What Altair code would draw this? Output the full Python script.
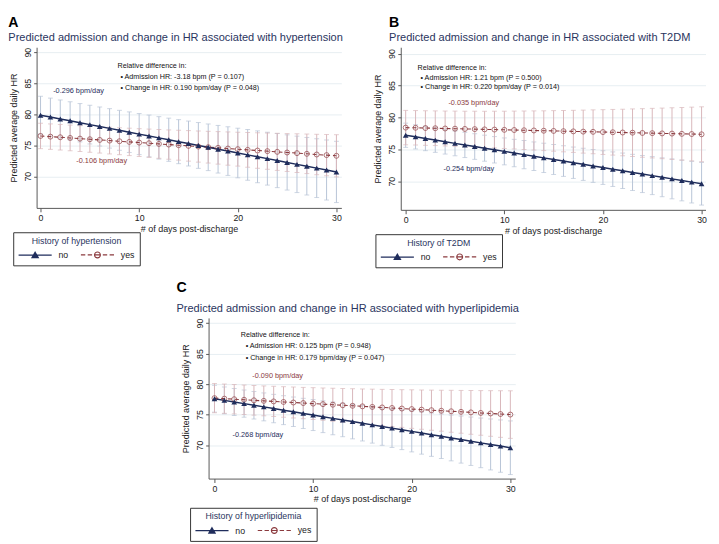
import altair as alt
import pandas as pd

days = list(range(31))

# ---------------- Panel A: hypertension ----------------
a_no_mean = [79.85, 79.55, 79.24, 78.94, 78.63, 78.33, 78.02, 77.72, 77.41, 77.11, 76.80,
             76.50, 76.19, 75.89, 75.58, 75.28, 74.97, 74.67, 74.36, 74.06, 73.75,
             73.45, 73.14, 72.84, 72.53, 72.23, 71.92, 71.62, 71.31, 71.01, 70.70]
a_no_hw = [3.05, 3.05, 3.06, 3.07, 3.09, 3.12, 3.15, 3.18, 3.22, 3.27, 3.31,
           3.37, 3.42, 3.48, 3.55, 3.62, 3.69, 3.76, 3.84, 3.92, 4.00,
           4.09, 4.18, 4.26, 4.36, 4.45, 4.55, 4.64, 4.74, 4.84, 4.94]
a_yes_mean = [76.50, 76.39, 76.29, 76.18, 76.07, 75.97, 75.86, 75.75, 75.65, 75.54, 75.43,
              75.33, 75.22, 75.11, 75.01, 74.90, 74.79, 74.69, 74.58, 74.47, 74.37,
              74.26, 74.15, 74.05, 73.94, 73.83, 73.73, 73.62, 73.51, 73.41, 73.30]
a_yes_hw = [2.05, 2.05, 2.06, 2.07, 2.08, 2.10, 2.12, 2.15, 2.17, 2.21, 2.24,
            2.28, 2.32, 2.36, 2.41, 2.46, 2.51, 2.56, 2.62, 2.68, 2.73,
            2.80, 2.86, 2.92, 2.99, 3.05, 3.12, 3.19, 3.26, 3.33, 3.40]

# ---------------- Panel B: T2DM ----------------
b_no_mean = [77.20, 76.95, 76.69, 76.44, 76.19, 75.93, 75.68, 75.43, 75.17, 74.92, 74.67,
             74.41, 74.16, 73.91, 73.65, 73.40, 73.15, 72.89, 72.64, 72.39, 72.13,
             71.88, 71.63, 71.37, 71.12, 70.87, 70.61, 70.36, 70.11, 69.85, 69.60]
b_no_hw = [1.90, 1.90, 1.91, 1.92, 1.94, 1.95, 1.98, 2.01, 2.04, 2.07, 2.11,
           2.15, 2.20, 2.24, 2.30, 2.35, 2.40, 2.46, 2.52, 2.58, 2.64,
           2.71, 2.78, 2.84, 2.91, 2.98, 3.05, 3.13, 3.20, 3.27, 3.35]
b_yes_mean = [78.40, 78.37, 78.33, 78.30, 78.26, 78.23, 78.19, 78.16, 78.12, 78.09, 78.05,
              78.02, 77.98, 77.95, 77.91, 77.88, 77.84, 77.81, 77.77, 77.74, 77.70,
              77.67, 77.63, 77.60, 77.56, 77.53, 77.49, 77.46, 77.42, 77.39, 77.35]
b_yes_hw = [2.70, 2.70, 2.71, 2.72, 2.74, 2.76, 2.78, 2.81, 2.84, 2.88, 2.92,
            2.97, 3.01, 3.07, 3.12, 3.18, 3.24, 3.30, 3.37, 3.44, 3.51,
            3.58, 3.65, 3.73, 3.81, 3.89, 3.97, 4.05, 4.13, 4.22, 4.31]

# ---------------- Panel C: hyperlipidemia ----------------
c_no_mean = [77.60, 77.33, 77.06, 76.80, 76.53, 76.26, 75.99, 75.72, 75.46, 75.19, 74.92,
             74.65, 74.38, 74.12, 73.85, 73.58, 73.31, 73.04, 72.78, 72.51, 72.24,
             71.97, 71.70, 71.44, 71.17, 70.90, 70.63, 70.36, 70.10, 69.83, 69.56]
c_no_hw = [2.20, 2.20, 2.21, 2.23, 2.26, 2.29, 2.33, 2.37, 2.42, 2.48, 2.54,
           2.61, 2.68, 2.75, 2.83, 2.91, 2.99, 3.08, 3.17, 3.26, 3.36,
           3.46, 3.55, 3.65, 3.76, 3.86, 3.97, 4.07, 4.18, 4.29, 4.40]
c_yes_mean = [77.70, 77.61, 77.52, 77.43, 77.34, 77.25, 77.16, 77.07, 76.98, 76.89, 76.80,
              76.71, 76.62, 76.53, 76.44, 76.35, 76.26, 76.17, 76.08, 75.99, 75.90,
              75.81, 75.72, 75.63, 75.54, 75.45, 75.36, 75.27, 75.18, 75.09, 75.00]
c_yes_hw = [2.40, 2.40, 2.41, 2.42, 2.43, 2.45, 2.48, 2.50, 2.54, 2.57, 2.61,
            2.65, 2.70, 2.74, 2.80, 2.85, 2.91, 2.97, 3.03, 3.09, 3.16,
            3.22, 3.29, 3.36, 3.44, 3.51, 3.59, 3.66, 3.74, 3.82, 3.90]

groups = ["no", "yes"]
x_ticks = [0, 10, 20, 30]
y_ticks = [70, 75, 80, 85, 90]

a_texts = ["Relative difference in:", "\u2022  Admission HR: -3.18 bpm (P = 0.107)",
           "\u2022  Change in HR: 0.190 bpm/day (P = 0.048)"]
b_texts = ["Relative difference in:", "\u2022  Admission HR: 1.21 bpm (P = 0.500)",
           "\u2022  Change in HR: 0.220 bpm/day (P = 0.014)"]
c_texts = ["Relative difference in:", "\u2022  Admission HR: 0.125 bpm (P = 0.948)",
           "\u2022  Change in HR: 0.179 bpm/day (P = 0.047)"]
a_slopes = ["-0.296 bpm/day", "-0.106 bpm/day"]
b_slopes = ["-0.254 bpm/day", "-0.035 bpm/day"]
c_slopes = ["-0.268 bpm/day", "-0.090 bpm/day"]

NAVY = "#1f2d5c"
MAROON = "#8b3a3e"
NAVY_CI = "#b7c3d6"
MAROON_CI = "#d8b6ba"
TXT = "#2a3560"
FONT = "Liberation Sans"

# legend symbols (unit = 5 px with symbolSize 100): line + marker
PATH_NO = ("M-3.4,0L3.4,0"
           "M0,-0.6L0.65,0.5L-0.65,0.5Z"
           "M0,-0.3L0.4,0.35L-0.4,0.35Z"
           "M0,-0.05L0.15,0.2L-0.15,0.2Z")
PATH_YES = ("M-3.4,0L-2.5,0M-2.0,0L-1.1,0M-0.6,0L0.6,0M1.1,0L2.0,0M2.5,0L3.4,0"
            "M-0.6,0A0.6,0.6 0 1,0 0.6,0A0.6,0.6 0 1,0 -0.6,0Z")


def panel(letter, subtitle, legtitle, no_mean, no_hw, yes_mean, yes_hw,
          texts, text_pos, slopes, slope_pos, width, height, xdom, ydom,
          title_dx, leg_xy, sub_pad):
    rows = []
    for g, means, hws in (("no", no_mean, no_hw), ("yes", yes_mean, yes_hw)):
        for d, m, h in zip(days, means, hws):
            rows.append({"day": d, "grp": g, "mean": m, "lo": m - h, "hi": m + h})
    df = pd.DataFrame(rows)
    base = alt.Chart(df)

    xs = alt.Scale(domain=xdom, nice=False, zero=False)
    ys = alt.Scale(domain=ydom, nice=False, zero=False)
    xax = alt.Axis(values=x_ticks, title="# of days post-discharge", grid=False,
                   labelFontSize=9, titleFontSize=9.2, labelFont=FONT, titleFont=FONT,
                   titleFontWeight="normal", labelColor="#222", titleColor="#222",
                   domainColor="#555", tickColor="#555", tickSize=4, labelPadding=2,
                   titlePadding=2)
    yax = alt.Axis(values=y_ticks, title="Predicted average daily HR", grid=True,
                   gridColor="#e6eef2", labelAngle=-90, labelAlign="center",
                   labelBaseline="bottom", labelFontSize=9, titleFontSize=9.2,
                   labelFont=FONT, titleFont=FONT, titleFontWeight="normal",
                   labelColor="#222", titleColor="#222", domainColor="#555",
                   tickColor="#555", tickSize=3, labelPadding=1, titlePadding=6)
    X = alt.X("day:Q", scale=xs, axis=xax)

    def Y(f):
        return alt.Y(f, type="quantitative", scale=ys, axis=yax)

    layers = []
    for g, cicol in (("no", NAVY_CI), ("yes", MAROON_CI)):
        sub = base.transform_filter(alt.datum.grp == g)
        layers.append(sub.mark_rule(color=cicol, strokeWidth=1).encode(
            x=X, y=Y("lo"), y2="hi"))
        layers.append(sub.mark_tick(color=cicol, orient="horizontal", size=5,
                                    thickness=1).encode(x=X, y=Y("lo")))
        layers.append(sub.mark_tick(color=cicol, orient="horizontal", size=5,
                                    thickness=1).encode(x=X, y=Y("hi")))
    no = base.transform_filter(alt.datum.grp == "no")
    yes = base.transform_filter(alt.datum.grp == "yes")
    layers.append(yes.mark_line(color=MAROON, strokeWidth=1.1, strokeDash=[4, 3]).encode(
        x=X, y=Y("mean")))
    layers.append(no.mark_line(color=NAVY, strokeWidth=1.5).encode(x=X, y=Y("mean")))
    layers.append(yes.mark_point(shape="circle", color=MAROON, size=26, strokeWidth=1,
                                 filled=False).encode(x=X, y=Y("mean")))
    layers.append(no.mark_point(shape="triangle-up", color=NAVY, size=34,
                                filled=True, opacity=1).encode(x=X, y=Y("mean")))

    leg = alt.Legend(title=legtitle, orient="none", legendX=leg_xy[0], legendY=leg_xy[1],
                     direction="horizontal", symbolSize=100, symbolStrokeWidth=1.2,
                     symbolOffset=11.5, labelOffset=18, columnPadding=10,
                     titleAnchor="middle", strokeColor="#333", padding=5,
                     titleFont=FONT, titleFontSize=9, titleFontWeight="normal",
                     titleColor=TXT, labelFont=FONT, labelFontSize=9,
                     labelColor="#222", titlePadding=3, fillColor="white")
    layers.append(base.mark_point(opacity=0, filled=True).encode(
        x=X, y=Y("mean"),
        shape=alt.Shape("grp:N", scale=alt.Scale(domain=groups, range=[PATH_NO, PATH_YES]),
                        legend=leg),
        stroke=alt.Stroke("grp:N", scale=alt.Scale(domain=groups, range=[NAVY, MAROON]),
                          legend=leg),
        fill=alt.Fill("grp:N", scale=alt.Scale(domain=groups, range=[NAVY, "transparent"]),
                      legend=leg),
    ))

    tdf = pd.DataFrame({"t": texts, "x": [p[0] for p in text_pos],
                        "y": [p[1] for p in text_pos]})
    layers.append(alt.Chart(tdf).mark_text(align="left", baseline="middle", font=FONT,
                                           fontSize=7.4, color="#111").encode(
        x=alt.X("x:Q", scale=xs, axis=xax), y=alt.Y("y:Q", scale=ys, axis=yax),
        text="t:N"))
    for t, pos, col in zip(slopes, slope_pos, (NAVY, MAROON)):
        sdf = pd.DataFrame({"t": [t], "x": [pos[0]], "y": [pos[1]]})
        layers.append(alt.Chart(sdf).mark_text(align="center", baseline="middle",
                                               font=FONT, fontSize=7.5, color=col).encode(
            x=alt.X("x:Q", scale=xs, axis=xax), y=alt.Y("y:Q", scale=ys, axis=yax),
            text="t:N"))

    return alt.layer(*layers).properties(
        width=width, height=height,
        title=alt.TitleParams(text=letter, subtitle=subtitle, anchor="start", frame="group",
                              dx=title_dx, fontSize=14.5, fontWeight="bold", color="black",
                              font=FONT, subtitleFont=FONT, subtitleFontSize=11.3,
                              subtitleColor=TXT, subtitlePadding=sub_pad, offset=3),
    )


pA = panel("A", "Predicted admission and change in HR associated with hypertension",
           "History of hypertension", a_no_mean, a_no_hw, a_yes_mean, a_yes_hw,
           a_texts, [(7.8, 87.75), (8.1, 86.0), (8.1, 84.3)], a_slopes,
           [(3.85, 83.8), (6.2, 72.4)], 313, 165, [-0.4, 30.5], [64.9, 90.8], -29,
           (-24, 165 + 25), 2)
pB = panel("B", "Predicted admission and change in HR associated with T2DM",
           "History of T2DM", b_no_mean, b_no_hw, b_yes_mean, b_yes_hw,
           b_texts, [(1.2, 87.7), (1.5, 86.1), (1.5, 84.7)], b_slopes,
           [(6.4, 71.9), (6.9, 82.2)], 313, 167, [-0.5, 30.4], [65.5, 91.0], -12,
           (-26, 167 + 25), 2)
pC = panel("C", "Predicted admission and change in HR associated with hyperlipidemia",
           "History of hyperlipidemia", c_no_mean, c_no_hw, c_yes_mean, c_yes_hw,
           c_texts, [(2.67, 88.1), (3.16, 86.2), (3.16, 84.2)], c_slopes,
           [(4.4, 71.7), (6.4, 81.3)], 315, 165, [-0.6, 30.5], [64.5, 90.85], -33,
           (-19, 165 + 30), 8)

# empty spacer view to the right of panel C (shifts the centred panel slightly left)
spacer = alt.Chart(pd.DataFrame({"v": [0]})).mark_point(opacity=0).encode(
    x=alt.value(0), y=alt.value(0)).properties(width=10, height=10)

ind = dict(shape="independent", stroke="independent", fill="independent")
top = alt.hconcat(pA, pB, spacing=28).resolve_scale(**ind).resolve_legend(**ind)
bottom = alt.hconcat(pC, spacer, spacing=6).resolve_scale(**ind).resolve_legend(**ind)
chart = alt.vconcat(top, bottom, spacing=12, center=True).resolve_scale(**ind).resolve_legend(
    **ind).properties(padding={"left": 0, "top": 0, "right": 0, "bottom": 0}).configure_view(
    stroke=None)

chart.save("out.html", embed_options={"renderer": "svg", "actions": False})
